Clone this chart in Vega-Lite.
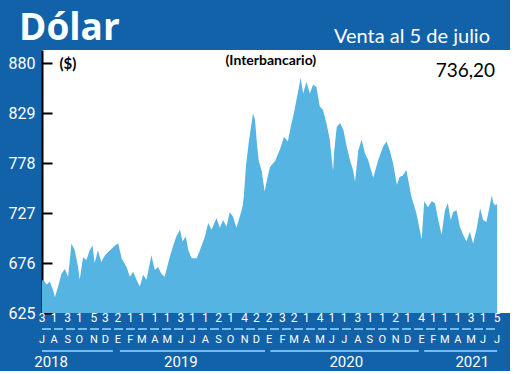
{
  "$schema": "https://vega.github.io/schema/vega-lite/v6.json",
  "background": "#1262a9",
  "padding": 0,
  "spacing": 0,
  "bounds": "flush",
  "config": {"view": {"stroke": null}},
  "datasets": {
    "rate": [
      {"fecha": "2018-07-03", "valor": 658}, {"fecha": "2018-07-06", "valor": 659}, {"fecha": "2018-07-14", "valor": 654},
      {"fecha": "2018-07-22", "valor": 657}, {"fecha": "2018-07-30", "valor": 648}, {"fecha": "2018-08-03", "valor": 641},
      {"fecha": "2018-08-11", "valor": 652}, {"fecha": "2018-08-19", "valor": 665}, {"fecha": "2018-08-27", "valor": 670},
      {"fecha": "2018-09-04", "valor": 662}, {"fecha": "2018-09-12", "valor": 696}, {"fecha": "2018-09-20", "valor": 689},
      {"fecha": "2018-09-28", "valor": 672}, {"fecha": "2018-10-02", "valor": 659}, {"fecha": "2018-10-10", "valor": 682},
      {"fecha": "2018-10-18", "valor": 679}, {"fecha": "2018-10-26", "valor": 689}, {"fecha": "2018-11-02", "valor": 694},
      {"fecha": "2018-11-07", "valor": 676}, {"fecha": "2018-11-15", "valor": 689}, {"fecha": "2018-11-23", "valor": 677},
      {"fecha": "2018-12-02", "valor": 684}, {"fecha": "2018-12-14", "valor": 689}, {"fecha": "2018-12-26", "valor": 694},
      {"fecha": "2019-01-03", "valor": 696}, {"fecha": "2019-01-11", "valor": 681}, {"fecha": "2019-01-23", "valor": 672},
      {"fecha": "2019-01-31", "valor": 662}, {"fecha": "2019-02-08", "valor": 667}, {"fecha": "2019-02-16", "valor": 659},
      {"fecha": "2019-02-24", "valor": 652}, {"fecha": "2019-03-04", "valor": 664}, {"fecha": "2019-03-12", "valor": 659},
      {"fecha": "2019-03-24", "valor": 684}, {"fecha": "2019-04-01", "valor": 669}, {"fecha": "2019-04-09", "valor": 672},
      {"fecha": "2019-04-17", "valor": 665}, {"fecha": "2019-04-25", "valor": 662}, {"fecha": "2019-05-07", "valor": 682},
      {"fecha": "2019-05-15", "valor": 693}, {"fecha": "2019-05-23", "valor": 703}, {"fecha": "2019-06-01", "valor": 710},
      {"fecha": "2019-06-07", "valor": 698}, {"fecha": "2019-06-15", "valor": 703}, {"fecha": "2019-06-21", "valor": 689},
      {"fecha": "2019-06-29", "valor": 681}, {"fecha": "2019-07-11", "valor": 681}, {"fecha": "2019-07-19", "valor": 689},
      {"fecha": "2019-07-31", "valor": 703}, {"fecha": "2019-08-08", "valor": 717}, {"fecha": "2019-08-16", "valor": 710},
      {"fecha": "2019-08-28", "valor": 722}, {"fecha": "2019-09-05", "valor": 712}, {"fecha": "2019-09-13", "valor": 720},
      {"fecha": "2019-09-21", "valor": 713}, {"fecha": "2019-09-29", "valor": 728}, {"fecha": "2019-10-07", "valor": 723},
      {"fecha": "2019-10-15", "valor": 712}, {"fecha": "2019-10-23", "valor": 723}, {"fecha": "2019-10-30", "valor": 734},
      {"fecha": "2019-11-02", "valor": 745}, {"fecha": "2019-11-07", "valor": 775}, {"fecha": "2019-11-14", "valor": 800},
      {"fecha": "2019-11-24", "valor": 829}, {"fecha": "2019-11-29", "valor": 822}, {"fecha": "2019-12-03", "valor": 800},
      {"fecha": "2019-12-08", "valor": 780}, {"fecha": "2019-12-15", "valor": 770}, {"fecha": "2019-12-22", "valor": 749},
      {"fecha": "2019-12-30", "valor": 765}, {"fecha": "2020-01-04", "valor": 774}, {"fecha": "2020-01-16", "valor": 780},
      {"fecha": "2020-01-28", "valor": 792}, {"fecha": "2020-02-07", "valor": 805}, {"fecha": "2020-02-16", "valor": 800},
      {"fecha": "2020-02-23", "valor": 815}, {"fecha": "2020-03-02", "valor": 830}, {"fecha": "2020-03-09", "valor": 845},
      {"fecha": "2020-03-18", "valor": 865}, {"fecha": "2020-03-24", "valor": 849}, {"fecha": "2020-04-01", "valor": 861},
      {"fecha": "2020-04-09", "valor": 849}, {"fecha": "2020-04-17", "valor": 858}, {"fecha": "2020-04-25", "valor": 856},
      {"fecha": "2020-05-03", "valor": 836}, {"fecha": "2020-05-11", "valor": 832}, {"fecha": "2020-05-19", "valor": 819},
      {"fecha": "2020-05-27", "valor": 803}, {"fecha": "2020-06-04", "valor": 770}, {"fecha": "2020-06-07", "valor": 791},
      {"fecha": "2020-06-13", "valor": 815}, {"fecha": "2020-06-21", "valor": 819}, {"fecha": "2020-06-29", "valor": 812},
      {"fecha": "2020-07-07", "valor": 795}, {"fecha": "2020-07-15", "valor": 781}, {"fecha": "2020-07-23", "valor": 770},
      {"fecha": "2020-07-27", "valor": 759}, {"fecha": "2020-07-31", "valor": 774}, {"fecha": "2020-08-04", "valor": 791},
      {"fecha": "2020-08-12", "valor": 802}, {"fecha": "2020-08-20", "valor": 788}, {"fecha": "2020-08-28", "valor": 781},
      {"fecha": "2020-09-09", "valor": 763}, {"fecha": "2020-09-21", "valor": 781}, {"fecha": "2020-10-03", "valor": 795},
      {"fecha": "2020-10-11", "valor": 800}, {"fecha": "2020-10-19", "valor": 791}, {"fecha": "2020-10-27", "valor": 778},
      {"fecha": "2020-11-05", "valor": 756}, {"fecha": "2020-11-12", "valor": 764}, {"fecha": "2020-11-19", "valor": 765},
      {"fecha": "2020-11-28", "valor": 771}, {"fecha": "2020-12-10", "valor": 744}, {"fecha": "2020-12-22", "valor": 727},
      {"fecha": "2021-01-04", "valor": 700}, {"fecha": "2021-01-10", "valor": 739}, {"fecha": "2021-01-19", "valor": 733},
      {"fecha": "2021-01-28", "valor": 739}, {"fecha": "2021-02-05", "valor": 737}, {"fecha": "2021-02-13", "valor": 720},
      {"fecha": "2021-02-21", "valor": 705}, {"fecha": "2021-03-01", "valor": 730}, {"fecha": "2021-03-08", "valor": 737},
      {"fecha": "2021-03-15", "valor": 720}, {"fecha": "2021-03-21", "valor": 728}, {"fecha": "2021-03-29", "valor": 730},
      {"fecha": "2021-04-06", "valor": 713}, {"fecha": "2021-04-14", "valor": 705}, {"fecha": "2021-04-22", "valor": 698},
      {"fecha": "2021-04-30", "valor": 708}, {"fecha": "2021-05-08", "valor": 696}, {"fecha": "2021-05-17", "valor": 712},
      {"fecha": "2021-05-25", "valor": 732}, {"fecha": "2021-06-01", "valor": 720}, {"fecha": "2021-06-09", "valor": 718},
      {"fecha": "2021-06-15", "valor": 730}, {"fecha": "2021-06-22", "valor": 745}, {"fecha": "2021-06-26", "valor": 737},
      {"fecha": "2021-06-30", "valor": 735}, {"fecha": "2021-07-05", "valor": 736.2}
    ],
    "months": [
      {"fecha": "2018-07-03", "dia": "3", "mes": "J"}, {"fecha": "2018-08-01", "dia": "1", "mes": "A"},
      {"fecha": "2018-09-03", "dia": "3", "mes": "S"}, {"fecha": "2018-10-01", "dia": "1", "mes": "O"},
      {"fecha": "2018-11-05", "dia": "5", "mes": "N"}, {"fecha": "2018-12-03", "dia": "3", "mes": "D"},
      {"fecha": "2019-01-02", "dia": "2", "mes": "E"}, {"fecha": "2019-02-01", "dia": "1", "mes": "F"},
      {"fecha": "2019-03-01", "dia": "1", "mes": "M"}, {"fecha": "2019-04-01", "dia": "1", "mes": "A"},
      {"fecha": "2019-05-01", "dia": "1", "mes": "M"}, {"fecha": "2019-06-03", "dia": "3", "mes": "J"},
      {"fecha": "2019-07-01", "dia": "1", "mes": "J"}, {"fecha": "2019-08-01", "dia": "1", "mes": "A"},
      {"fecha": "2019-09-02", "dia": "2", "mes": "S"}, {"fecha": "2019-10-01", "dia": "1", "mes": "O"},
      {"fecha": "2019-11-04", "dia": "4", "mes": "N"}, {"fecha": "2019-12-02", "dia": "2", "mes": "D"},
      {"fecha": "2020-01-02", "dia": "2", "mes": "E"}, {"fecha": "2020-02-03", "dia": "3", "mes": "F"},
      {"fecha": "2020-03-02", "dia": "2", "mes": "M"}, {"fecha": "2020-04-01", "dia": "1", "mes": "A"},
      {"fecha": "2020-05-04", "dia": "4", "mes": "M"}, {"fecha": "2020-06-01", "dia": "1", "mes": "J"},
      {"fecha": "2020-07-01", "dia": "1", "mes": "J"}, {"fecha": "2020-08-03", "dia": "3", "mes": "A"},
      {"fecha": "2020-09-01", "dia": "1", "mes": "S"}, {"fecha": "2020-10-01", "dia": "1", "mes": "O"},
      {"fecha": "2020-11-02", "dia": "2", "mes": "N"}, {"fecha": "2020-12-01", "dia": "1", "mes": "D"},
      {"fecha": "2021-01-04", "dia": "4", "mes": "E"}, {"fecha": "2021-02-01", "dia": "1", "mes": "F"},
      {"fecha": "2021-03-01", "dia": "1", "mes": "M"}, {"fecha": "2021-04-01", "dia": "1", "mes": "A"},
      {"fecha": "2021-05-03", "dia": "3", "mes": "M"}, {"fecha": "2021-06-01", "dia": "1", "mes": "J"},
      {"fecha": "2021-07-05", "dia": "5", "mes": "J"}
    ],
    "years": [
      {"anio": "2018", "inicio": "2018-07-03", "fin": "2018-12-21", "etiqueta": "2018-07-25"},
      {"anio": "2019", "inicio": "2019-01-07", "fin": "2019-12-23", "etiqueta": "2019-06-03"},
      {"anio": "2020", "inicio": "2020-01-05", "fin": "2020-12-28", "etiqueta": "2020-07-06"},
      {"anio": "2021", "inicio": "2021-01-10", "fin": "2021-07-05", "etiqueta": "2021-05-06"}
    ]
  },
  "vconcat": [
    {
      "width": 468,
      "height": 50,
      "data": {"values": [{"label": "Dólar", "lado": "izq"}, {"label": "Venta al 5 de julio", "lado": "der"}]},
      "encoding": {
        "x": {"field": "lado", "type": "nominal", "scale": {"type": "point", "domain": ["izq", "der"], "padding": 0}, "axis": null},
        "text": {"field": "label"}
      },
      "layer": [
        {
          "transform": [{"filter": "datum.lado === 'izq'"}],
          "mark": {"type": "text", "align": "left", "baseline": "alphabetic", "dx": -23, "dy": 15, "font": "Open Sans", "fontWeight": "bold", "fontSize": 37, "fill": "white"}
        },
        {
          "transform": [{"filter": "datum.lado === 'der'"}],
          "mark": {"type": "text", "align": "right", "baseline": "alphabetic", "dx": -20, "dy": 18, "font": "Lato", "fontSize": 20, "fill": "white"}
        }
      ]
    },
    {
      "width": 468,
      "height": 263,
      "view": {"fill": "white", "stroke": null},
      "layer": [
        {
          "data": {"name": "rate"},
          "mark": {"type": "area", "color": "#56b4e3", "clip": true},
          "encoding": {
            "x": {"field": "fecha", "type": "temporal", "scale": {"domain": [{"year": 2018, "month": 7, "date": 3, "utc": true}, {"year": 2021, "month": 8, "date": 5, "utc": true}]}, "axis": null},
            "y": {
              "field": "valor", "type": "quantitative",
              "scale": {"domain": [625, 893.5], "zero": false, "nice": false},
              "axis": {
                "values": [625, 676, 727, 778, 829, 880], "title": null, "grid": false,
                "domainColor": "black", "domainWidth": 2, "tickColor": "black", "tickWidth": 2, "tickSize": -10,
                "labelPadding": 17, "labelColor": "white", "labelFontSize": 16,
                "labelFont": "Roboto",
                "minExtent": 42, "maxExtent": 42, "labelFlush": false
              }
            }
          }
        },
        {
          "data": {"values": [{"t": "(Interbancario)"}]},
          "mark": {"type": "text", "align": "center", "baseline": "alphabetic", "font": "Lato", "fontWeight": "bold", "fontSize": 14, "fill": "black"},
          "encoding": {
            "x": {"datum": {"year": 2020, "month": 1, "date": 6, "utc": true}, "type": "temporal"},
            "y": {"datum": 878, "type": "quantitative"},
            "text": {"field": "t"}
          }
        },
        {
          "data": {"values": [{"t": "($)"}]},
          "mark": {"type": "text", "align": "left", "baseline": "alphabetic", "font": "Lato", "fontWeight": "bold", "fontSize": 15, "fill": "black"},
          "encoding": {
            "x": {"datum": {"year": 2018, "month": 8, "date": 14, "utc": true}, "type": "temporal"},
            "y": {"datum": 874, "type": "quantitative"},
            "text": {"field": "t"}
          }
        },
        {
          "data": {"values": [{"t": "736,20"}]},
          "mark": {"type": "text", "align": "right", "baseline": "alphabetic", "font": "Lato", "fontSize": 19, "fill": "black"},
          "encoding": {
            "x": {"datum": {"year": 2021, "month": 6, "date": 30, "utc": true}, "type": "temporal"},
            "y": {"datum": 866, "type": "quantitative"},
            "text": {"field": "t"}
          }
        }
      ]
    },
    {
      "width": 468,
      "height": 57,
      "encoding": {
        "y": {"type": "nominal", "scale": {"type": "point", "domain": ["dia", "guion", "mes", "linea", "anio"], "padding": 0.59, "align": 0.385}, "axis": null}
      },
      "layer": [
        {
          "data": {"name": "months"},
          "mark": {"type": "text", "align": "center", "baseline": "middle", "font": "Roboto", "fontSize": 12, "fill": "white"},
          "encoding": {
            "x": {"field": "fecha", "type": "temporal", "scale": {"domain": [{"year": 2018, "month": 7, "date": 3, "utc": true}, {"year": 2021, "month": 8, "date": 5, "utc": true}]}, "axis": null},
            "y": {"datum": "dia", "type": "nominal"},
            "text": {"field": "dia"}
          }
        },
        {
          "data": {"name": "months"},
          "mark": {"type": "text", "align": "center", "baseline": "middle", "font": "Roboto", "fontSize": 11, "fill": "white"},
          "encoding": {
            "x": {"field": "fecha", "type": "temporal"},
            "y": {"datum": "mes", "type": "nominal"},
            "text": {"field": "mes"}
          }
        },
        {
          "data": {"values": [{}]},
          "mark": {"type": "rule", "stroke": "#74bdeb", "strokeWidth": 2, "strokeDash": [9, 3]},
          "encoding": {
            "x": {"datum": {"year": 2018, "month": 7, "date": 3, "utc": true}, "type": "temporal"},
            "x2": {"datum": {"year": 2021, "month": 7, "date": 5, "utc": true}},
            "y": {"datum": "guion", "type": "nominal"}
          }
        },
        {
          "data": {"name": "years"},
          "mark": {"type": "rule", "stroke": "#74bdeb", "strokeWidth": 2},
          "encoding": {
            "x": {"field": "inicio", "type": "temporal"},
            "x2": {"field": "fin"},
            "y": {"datum": "linea", "type": "nominal"}
          }
        },
        {
          "data": {"name": "years"},
          "mark": {"type": "text", "align": "center", "baseline": "middle", "font": "Roboto", "fontSize": 15, "fill": "white"},
          "encoding": {
            "x": {"field": "etiqueta", "type": "temporal"},
            "y": {"datum": "anio", "type": "nominal"},
            "text": {"field": "anio"}
          }
        }
      ]
    }
  ]
}
